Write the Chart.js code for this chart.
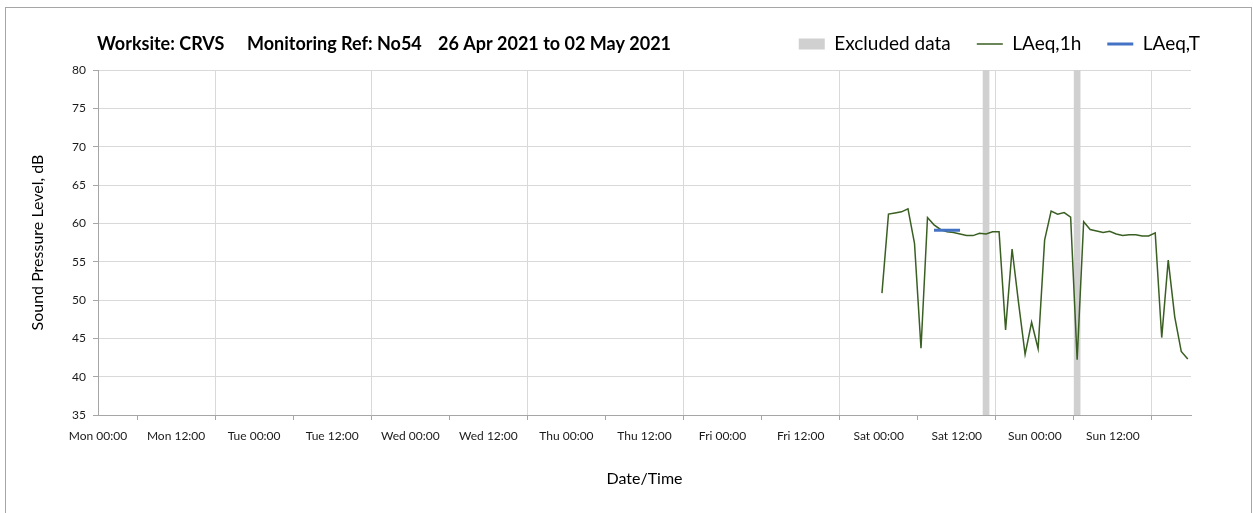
<!DOCTYPE html>
<html>
<head>
<meta charset="utf-8">
<script src="https://cdn.jsdelivr.net/npm/chart.js@4.4.1/dist/chart.umd.min.js"></script>
<style>
  body { margin: 0; background: #fff; }
  #box { position: absolute; left: 5px; top: 7px; width: 1245px; height: 510px; border: 1px solid #a6a6a6; background: #fff; }
  canvas { display: block; }
</style>
</head>
<body>
<div id="box"><canvas id="chart" width="1245" height="497"></canvas></div>
<script>
// title pieces
var titleParts = ['Worksite: CRVS', 'Monitoring Ref: No54', '26 Apr 2021 to 02 May 2021'];
var dayNames = ['Mon', 'Tue', 'Wed', 'Thu', 'Fri', 'Sat', 'Sun'];

// hours after Mon 00:00 of each hourly reading
var hours = [120.5, 121.5, 122.5, 123.5, 124.5, 125.5, 126.5, 127.5, 128.5, 129.5, 130.5, 131.5,
             132.5, 133.5, 134.5, 135.5, 136.5, 137.5, 138.5, 139.5, 140.5, 141.5, 142.5, 143.5,
             144.5, 145.5, 146.5, 147.5, 148.5, 149.5, 150.5, 151.5, 152.5, 153.5, 154.5, 155.5,
             156.5, 157.5, 158.5, 159.5, 160.5, 161.5, 162.5, 163.5, 164.5, 165.5, 166.5, 167.5];
var laeq1h = [50.9, 61.2, 61.35, 61.5, 61.9, 57.4, 43.7, 60.75, 59.8, 59.2, 58.9, 58.8,
              58.6, 58.4, 58.4, 58.7, 58.6, 58.9, 58.9, 46.1, 56.65, 49.6, 42.9, 47.1,
              43.65, 57.8, 61.6, 61.2, 61.4, 60.8, 42.2, 60.2, 59.2, 59.0, 58.8, 58.95,
              58.6, 58.4, 58.5, 58.5, 58.35, 58.35, 58.75, 45.1, 55.2, 47.8, 43.3, 42.3];

// LAeq,T period
var laeqTHours = [128.5, 132.5];
var laeqTValues = [59.1, 59.1];

// excluded hours
var excludedHours = [136.5, 150.5];

var yMin = 35, yMax = 80;

// title sits on the legend row, so draw it by hand
var titlePlugin = {
  id: 'rowTitle',
  afterDraw: function(chart) {
    var ctx = chart.ctx;
    var xs = [91, 241, 432];
    ctx.save();
    ctx.font = 'bold 18px Lato';
    ctx.fillStyle = '#000';
    ctx.textBaseline = 'middle';
    for (var i = 0; i < titleParts.length; i++) {
      ctx.fillText(titleParts[i], xs[i], 36);
    }
    ctx.restore();
  }
};

var ctx = document.getElementById('chart').getContext('2d');

var chart = new Chart(ctx, {
  type: 'line',
  data: {
    datasets: [
      {
        type: 'bar',
        label: 'Excluded data',
        data: excludedHours.map(function(h) { return {x: h, y: [yMin, yMax]}; }),
        backgroundColor: '#d0d0d0',
        borderWidth: 0,
        barThickness: 6,
        pointStyle: 'rect',
        order: 2
      },
      {
        label: 'LAeq,1h',
        data: hours.map(function(h, i) { return {x: h, y: laeq1h[i]}; }),
        borderColor: '#3a5f22',
        borderWidth: 1.5,
        pointRadius: 0,
        pointStyle: 'line',
        tension: 0,
        fill: false,
        order: 1
      },
      {
        label: 'LAeq,T',
        data: laeqTHours.map(function(h, i) { return {x: h, y: laeqTValues[i]}; }),
        borderColor: '#4472c4',
        borderWidth: 3,
        pointRadius: 0,
        pointStyle: 'line',
        fill: false,
        order: 0
      }
    ]
  },
  plugins: [titlePlugin],
  options: {
    responsive: false,
    animation: false,
    layout: {
      padding: { left: 0, right: 25, top: 0.5, bottom: 0 }
    },
    plugins: {
      title: { display: false },
      // empty spacer between legend row and plot
      subtitle: {
        display: true,
        text: '',
        weight: 500,
        font: { size: 1, lineHeight: 1 },
        padding: { top: 5.5, bottom: 0 }
      },
      tooltip: { enabled: false },
      legend: {
        position: 'top',
        align: 'end',
        labels: {
          font: { family: 'Lato', size: 19 },
          color: '#000',
          usePointStyle: true,
          pointStyleWidth: 26,
          boxHeight: 11,
          padding: 26,
          sort: function(a, b) { return a.datasetIndex - b.datasetIndex; },
          generateLabels: function(chart) {
            var items = Chart.defaults.plugins.legend.labels.generateLabels(chart);
            items.forEach(function(it) {
              it.pointStyle = it.datasetIndex === 0 ? 'rect' : 'line';
            });
            return items;
          }
        }
      }
    },
    scales: {
      x: {
        type: 'linear',
        min: 0,
        max: 168,
        offset: false,
        afterFit: function(s) { s.height = 90; s.paddingRight = 60; },
        ticks: {
          stepSize: 12,
          autoSkip: false,
          maxRotation: 0,
          padding: 9,
          color: '#1a1a1a',
          font: { family: 'Lato', size: 12 },
          callback: function(v) {
            if (v >= 168) return '';
            return dayNames[Math.floor(v / 24)] + ' ' + (v % 24 === 0 ? '00:00' : '12:00');
          }
        },
        grid: {
          color: function(c) { return c.tick && c.tick.value % 24 === 0 ? '#d9d9d9' : 'rgba(0,0,0,0)'; },
          tickColor: '#a6a6a6',
          tickLength: 5
        },
        border: { color: '#a6a6a6' },
        title: {
          display: true,
          text: 'Date/Time',
          color: '#000',
          font: { family: 'Lato', size: 16 },
          padding: { top: 0, bottom: 17 }
        }
      },
      y: {
        min: yMin,
        max: yMax,
        afterFit: function(s) { s.width = 92; },
        ticks: {
          stepSize: 5,
          padding: 7,
          color: '#1a1a1a',
          font: { family: 'Lato', size: 12 }
        },
        grid: {
          color: '#d9d9d9',
          tickColor: '#a6a6a6',
          tickLength: 5
        },
        border: { color: '#a6a6a6' },
        title: {
          display: true,
          text: 'Sound Pressure Level, dB',
          color: '#000',
          font: { family: 'Lato', size: 16 },
          padding: { top: 22, bottom: 0 }
        }
      }
    }
  }
});
</script>
</body>
</html>
